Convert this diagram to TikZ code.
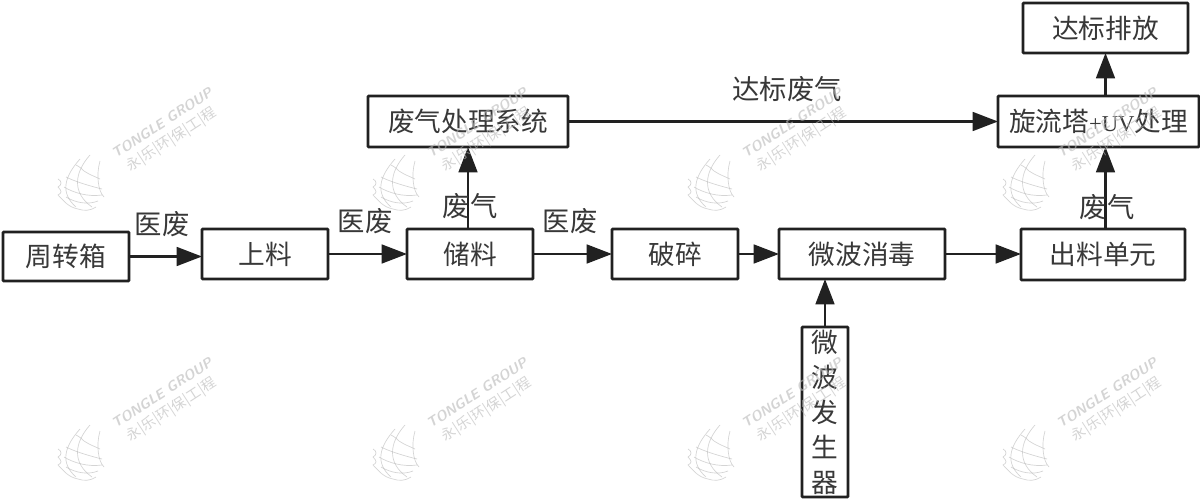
\documentclass[tikz,border=0pt]{standalone}
\usepackage{fontspec}
\setmainfont{Liberation Serif}
\newfontfamily\cjk{Noto Sans CJK SC}
\usetikzlibrary{arrows.meta}
\definecolor{wmgrey}{gray}{0.72}
\definecolor{ink}{gray}{0.13}
\definecolor{txt}{gray}{0.22}
\tikzset{
  x=0.75pt,y=-0.75pt,
  box/.style={draw=ink,line width=2pt,fill=white,rounded corners=0.6pt,inner sep=0pt,outer sep=0pt,font=\cjk\fontsize{20}{22}\selectfont,text=txt},
  lbl/.style={font=\cjk\fontsize{20.5}{22}\selectfont,text=txt,inner sep=0pt},
  flow/.style={draw=ink,line width=2pt,-{Triangle[length=19pt,width=14pt]}},
  wmline/.style={draw=wmgrey,line width=0.5pt,opacity=0.6},
  wmtitle/.style={font=\sffamily\bfseries\itshape\fontsize{10.5}{11}\selectfont,text=wmgrey,rotate=33,inner sep=0pt,opacity=0.6},
  wmsub/.style={font=\cjk\fontsize{10.5}{11}\selectfont,text=wmgrey,rotate=33,inner sep=0pt,opacity=0.6}
}
\newcommand{\wmark}[2]{%
  \begin{scope}[shift={(#1,#2)}]
    \node[wmtitle] at (80,-60) {TONGLE GROUP};
    \node[wmsub] at (90,-43) {永|乐|环|保|工|程};
    \draw[wmline] (-2,-24) .. controls (-18,-6) and (-22,10) .. (-6,24);
    \draw[wmline] (8,-28) .. controls (-8,-10) and (-10,10) .. (10,24);
    \draw[wmline] (-6,-18) .. controls (-2,-16) and (0,-14) .. (2,-12) .. controls (8,-8) and (14,-6) .. (18,-4);
    \draw[wmline] (-16,-6) .. controls (-8,-2) and (4,2) .. (20,6);
    \draw[wmline] (-18,4) .. controls (-8,10) and (6,14) .. (20,12);
    \draw[wmline] (-16,14) .. controls (-6,20) and (6,22) .. (16,18);
    \draw[wmline] (18,-22) .. controls (14,-8) and (16,8) .. (22,14);
    \draw[wmline] (-24,-4) .. controls (-20,-2) and (-20,2) .. (-24,4) .. controls (-20,8) and (-20,10) .. (-24,12) .. controls (-18,18) and (-14,24) .. (-4,26) .. controls (2,28) and (8,28) .. (14,24);
  \end{scope}}
\newcommand{\bx}[6]{% name, x1, y1, x2, y2, text
  \node[box,minimum width={(#4-#2)*0.75pt},minimum height={(#5-#3)*0.75pt}] (#1) at ({(#2+#4)/2},{(#3+#5)/2}) {#6};}
\begin{document}
\begin{tikzpicture}
\useasboundingbox (0,0) rectangle (1200,499);
\fill[white] (0,0) rectangle (1200,499);
\bx{zzx}{3}{232}{129}{281}{周转箱}
\bx{sl}{202}{229}{328}{279}{上料}
\bx{cl}{407}{229}{533}{279}{储料}
\bx{ps}{612}{229}{738}{279}{破碎}
\bx{wb}{779}{229}{945}{279}{微波消毒}
\bx{cd}{1021}{229}{1185}{280}{出料单元}
\bx{fq}{368}{96}{568}{147}{废气处理系统}
\bx{xl}{998}{96}{1199}{147}{旋流塔{\rmfamily\fontsize{17}{18}\selectfont +UV}处理}
\bx{db}{1023}{3}{1188}{53}{达标排放}
\node[box,minimum width=34.5pt,minimum height=127.5pt,align=center,font=\cjk\fontsize{20}{26.3}\selectfont] (wf) at (825,412) {微\\波\\发\\生\\器};
\draw[flow] (zzx.east) -- (zzx.east -| sl.west);
\draw[flow] (sl.east) -- (cl.west);
\draw[flow] (cl.east) -- (ps.west);
\draw[flow] (ps.east) -- (wb.west);
\draw[flow] (wb.east) -- (wb.east -| cd.west);
\draw[flow] (fq.south |- cl.north) -- (fq.south);
\draw[flow] (fq.east) -- (xl.west);
\draw[flow] (db.south |- cd.north) -- (db.south |- xl.south);
\draw[flow] (db.south |- xl.north) -- (db.south);
\draw[flow] (wf.north) -- (wf.north |- wb.south);
\node[lbl] (l1) at (162,224) {医废};
\node[lbl] (l2) at (365,221) {医废};
\node[lbl] (l3) at (570,221) {医废};
\node[lbl] (l4) at (470,206) {废气};
\node[lbl] (l5) at (1107,207) {废气};
\node[lbl] (l6) at (787,89) {达标废气};
\foreach \px in {0,315,630,945} \foreach \py in {0,270} {\wmark{82+\px}{183+\py}}
\end{tikzpicture}
\end{document}
